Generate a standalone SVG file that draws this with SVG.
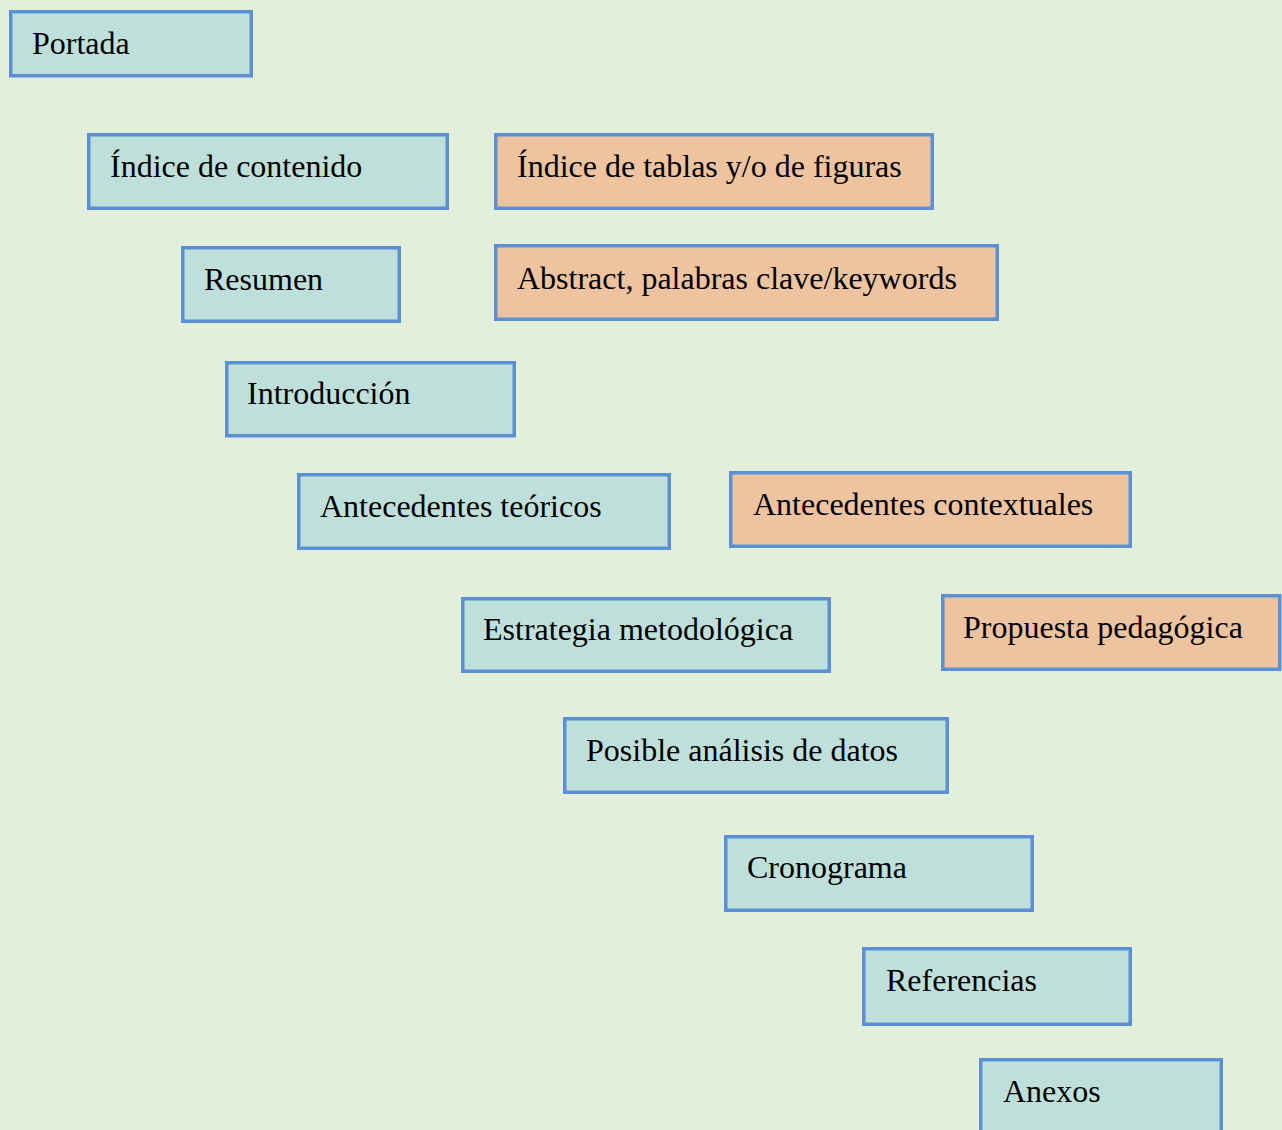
<svg xmlns="http://www.w3.org/2000/svg" width="1282" height="1130" viewBox="0 0 1282 1130">
<style>
.box{stroke:#5B8FD6;stroke-width:3.5}
.teal{fill:#BFE0DA}
.orange{fill:#EEC4A0}
text{font-family:"Liberation Serif","Times New Roman",serif;font-size:32px;fill:#000}
</style>
<rect x="0" y="0" width="1282" height="1130" fill="#E2EFDA"/>
<g id="connectors"></g>
<g id="n-portada"><rect class="box teal" x="10.75" y="11.75" width="240.5" height="64"/><text x="32" y="54">Portada</text></g>
<g id="n-indice"><rect class="box teal" x="88.75" y="134.75" width="358.5" height="73.5"/><text x="110" y="177">Índice de contenido</text></g>
<g id="n-tablas"><rect class="box orange" x="495.75" y="134.75" width="436.5" height="73.5"/><text x="517" y="177">Índice de tablas y/o de figuras</text></g>
<g id="n-resumen"><rect class="box teal" x="182.75" y="247.75" width="216.5" height="73.5"/><text x="204" y="290">Resumen</text></g>
<g id="n-abstract"><rect class="box orange" x="495.75" y="245.75" width="501.5" height="73.5"/><text x="517" y="289">Abstract, palabras clave/keywords</text></g>
<g id="n-intro"><rect class="box teal" x="226.75" y="362.75" width="287.5" height="73"/><text x="247" y="404">Introducción</text></g>
<g id="n-teoricos"><rect class="box teal" x="298.75" y="474.75" width="370.5" height="73.5"/><text x="320" y="517">Antecedentes teóricos</text></g>
<g id="n-contextuales"><rect class="box orange" x="730.75" y="472.75" width="399.5" height="73.5"/><text x="753" y="515">Antecedentes contextuales</text></g>
<g id="n-estrategia"><rect class="box teal" x="462.75" y="598.75" width="366.5" height="72.5"/><text x="483" y="640">Estrategia metodológica</text></g>
<g id="n-propuesta"><rect class="box orange" x="942.75" y="595.75" width="337" height="73.5"/><text x="963" y="638">Propuesta pedagógica</text></g>
<g id="n-analisis"><rect class="box teal" x="564.75" y="718.75" width="382.5" height="73.5"/><text x="586" y="761">Posible análisis de datos</text></g>
<g id="n-cronograma"><rect class="box teal" x="725.75" y="836.75" width="306.5" height="73.5"/><text x="747" y="878">Cronograma</text></g>
<g id="n-referencias"><rect class="box teal" x="863.75" y="948.75" width="266.5" height="75.5"/><text x="886" y="991">Referencias</text></g>
<g id="n-anexos"><rect class="box teal" x="980.75" y="1059.75" width="240.5" height="100"/><text x="1003" y="1102">Anexos</text></g>
</svg>
